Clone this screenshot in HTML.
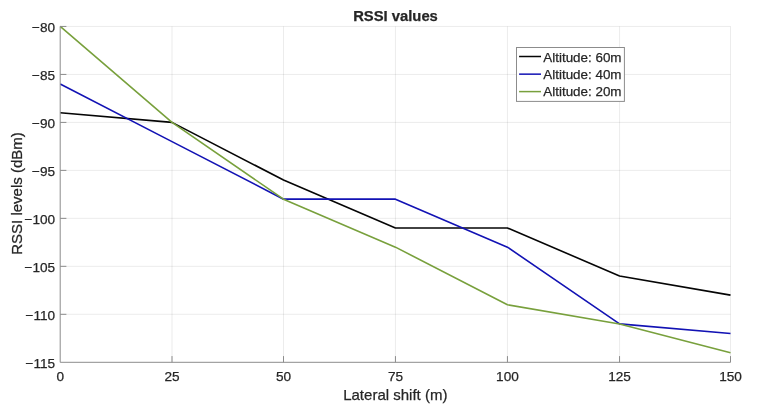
<!DOCTYPE html><html><head><meta charset="utf-8"><title>RSSI values</title><style>html,body{margin:0;padding:0;background:#fff}svg{display:block}text{font-family:"Liberation Sans",Arial,sans-serif;fill:#262626;stroke:#262626;stroke-width:.25px}</style></head><body>
<svg width="758" height="409" viewBox="0 0 758 409">
<rect width="758" height="409" fill="#fff"/>
<path d="M172.00 26.45V362.30M283.50 26.45V362.30M395.45 26.45V362.30M507.45 26.45V362.30M619.55 26.45V362.30M730.50 26.45V362.30" stroke="#262626" stroke-opacity=".085" stroke-width="1" fill="none"/>
<path d="M60.20 314.32H730.50M60.20 266.34H730.50M60.20 218.36H730.50M60.20 170.39H730.50M60.20 122.41H730.50M60.20 74.43H730.50M60.20 26.45H730.50" stroke="#262626" stroke-opacity=".085" stroke-width="1" fill="none"/>
<polyline points="60.20,112.81 172.00,122.41 283.50,179.98 395.45,227.96 507.45,227.96 619.55,275.94 730.50,295.13" fill="none" stroke="#050505" stroke-width="1.6" stroke-linejoin="round"/>
<polyline points="60.20,84.02 172.00,141.60 283.50,199.17 395.45,199.17 507.45,247.15 619.55,323.92 730.50,333.51" fill="none" stroke="#1212b4" stroke-width="1.6" stroke-linejoin="round"/>
<polyline points="60.20,26.45 172.00,122.41 283.50,199.17 395.45,247.15 507.45,304.73 619.55,323.92 730.50,352.70" fill="none" stroke="#78a03c" stroke-width="1.6" stroke-linejoin="round"/>
<path d="M60.20 26.45V362.30H730.50M172.00 362.30v-6.2M283.50 362.30v-6.2M395.45 362.30v-6.2M507.45 362.30v-6.2M619.55 362.30v-6.2M730.50 362.30v-6.2M60.20 314.32h6.2M60.20 266.34h6.2M60.20 218.36h6.2M60.20 170.39h6.2M60.20 122.41h6.2M60.20 74.43h6.2M60.20 26.45h6.2" stroke="#8c8c8c" stroke-width="1" fill="none"/>
<text x="60.20" y="380.7" font-size="13.6" text-anchor="middle">0</text>
<text x="172.00" y="380.7" font-size="13.6" text-anchor="middle">25</text>
<text x="283.50" y="380.7" font-size="13.6" text-anchor="middle">50</text>
<text x="395.45" y="380.7" font-size="13.6" text-anchor="middle">75</text>
<text x="507.45" y="380.7" font-size="13.6" text-anchor="middle">100</text>
<text x="619.55" y="380.7" font-size="13.6" text-anchor="middle">125</text>
<text x="730.50" y="380.7" font-size="13.6" text-anchor="middle">150</text>
<text x="55.1" y="367.75" font-size="13.6" text-anchor="end">−115</text>
<text x="55.1" y="319.77" font-size="13.6" text-anchor="end">−110</text>
<text x="55.1" y="271.79" font-size="13.6" text-anchor="end">−105</text>
<text x="55.1" y="223.81" font-size="13.6" text-anchor="end">−100</text>
<text x="55.1" y="175.84" font-size="13.6" text-anchor="end">−95</text>
<text x="55.1" y="127.86" font-size="13.6" text-anchor="end">−90</text>
<text x="55.1" y="79.88" font-size="13.6" text-anchor="end">−85</text>
<text x="55.1" y="31.90" font-size="13.6" text-anchor="end">−80</text>
<text x="395.5" y="20.75" font-size="14.8" font-weight="bold" text-anchor="middle" fill="#000" stroke="none">RSSI values</text>
<text x="395.3" y="400.1" font-size="15" text-anchor="middle">Lateral shift (m)</text>
<text transform="translate(21.5 193.5) rotate(-90)" font-size="15" text-anchor="middle">RSSI levels (dBm)</text>
<rect x="516.5" y="47.5" width="107.9" height="53.9" fill="#fff" stroke="#8c8c8c" stroke-width="1"/>
<line x1="519.1" x2="541" y1="56.50" y2="56.50" stroke="#050505" stroke-width="1.5"/>
<text x="543.3" y="61.60" font-size="13.42" fill="#0c0c0c" stroke="#0c0c0c">Altitude: 60m</text>
<line x1="519.1" x2="541" y1="74.15" y2="74.15" stroke="#1212b4" stroke-width="1.5"/>
<text x="543.3" y="78.95" font-size="13.42" fill="#0c0c0c" stroke="#0c0c0c">Altitude: 40m</text>
<line x1="519.1" x2="541" y1="91.60" y2="91.60" stroke="#78a03c" stroke-width="1.5"/>
<text x="543.3" y="96.30" font-size="13.42" fill="#0c0c0c" stroke="#0c0c0c">Altitude: 20m</text>
</svg></body></html>
